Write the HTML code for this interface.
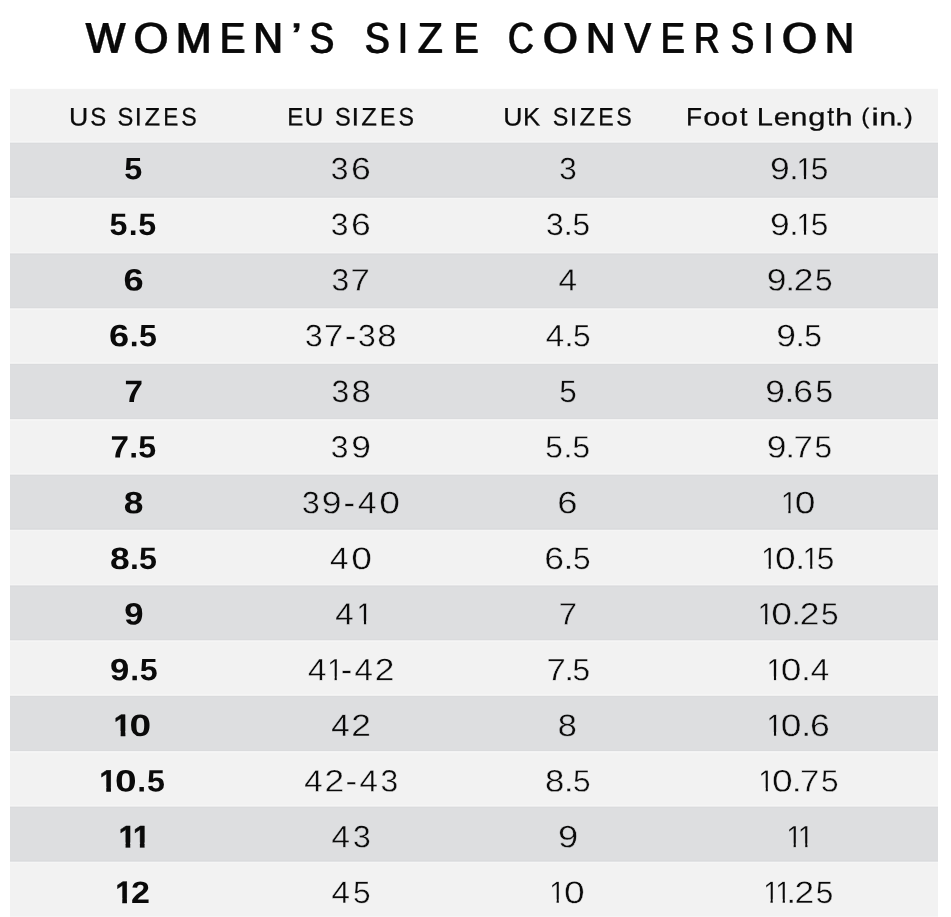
<!DOCTYPE html><html><head><meta charset="utf-8"><style>html,body{margin:0;padding:0;background:#fff;}svg{display:block;will-change:transform;}text{font-family:"Liberation Sans",sans-serif;white-space:pre;}</style></head><body><svg width="951" height="917" viewBox="0 0 951 917"><defs><clipPath id="c1r"><rect x="-20" y="-40" width="60" height="36.084"/><rect x="7.995" y="-4.416" width="2.340" height="8"/></clipPath><clipPath id="c1b"><rect x="-20" y="-40" width="60" height="35.236"/><rect x="6.985" y="-5.264" width="4.753" height="8"/></clipPath></defs><rect x="0" y="0" width="951" height="917" fill="#fff"/><rect x="10.00" y="88.80" width="928.00" height="53.80" fill="#f2f2f2"/><rect x="10.00" y="142.60" width="928.00" height="55.34" fill="#dddee0"/><rect x="10.00" y="197.93" width="928.00" height="55.34" fill="#f2f2f2"/><rect x="10.00" y="253.26" width="928.00" height="55.34" fill="#dddee0"/><rect x="10.00" y="308.59" width="928.00" height="55.34" fill="#f2f2f2"/><rect x="10.00" y="363.92" width="928.00" height="55.34" fill="#dddee0"/><rect x="10.00" y="419.25" width="928.00" height="55.34" fill="#f2f2f2"/><rect x="10.00" y="474.58" width="928.00" height="55.34" fill="#dddee0"/><rect x="10.00" y="529.91" width="928.00" height="55.34" fill="#f2f2f2"/><rect x="10.00" y="585.24" width="928.00" height="55.34" fill="#dddee0"/><rect x="10.00" y="640.57" width="928.00" height="55.34" fill="#f2f2f2"/><rect x="10.00" y="695.90" width="928.00" height="55.34" fill="#dddee0"/><rect x="10.00" y="751.23" width="928.00" height="55.34" fill="#f2f2f2"/><rect x="10.00" y="806.56" width="928.00" height="55.34" fill="#dddee0"/><rect x="10.00" y="861.89" width="928.00" height="57.11" fill="#f2f2f2"/><rect x="10.00" y="141" width="928.00" height="1" fill="#f5f5f5"/><rect x="10.00" y="143" width="928.00" height="1" fill="#dadbdd"/><rect x="10.00" y="196" width="928.00" height="1" fill="#dadbdd"/><rect x="10.00" y="198" width="928.00" height="1" fill="#f5f5f5"/><rect x="10.00" y="252" width="928.00" height="1" fill="#f5f5f5"/><rect x="10.00" y="254" width="928.00" height="1" fill="#dadbdd"/><rect x="10.00" y="307" width="928.00" height="1" fill="#dadbdd"/><rect x="10.00" y="309" width="928.00" height="1" fill="#f5f5f5"/><rect x="10.00" y="362" width="928.00" height="1" fill="#f5f5f5"/><rect x="10.00" y="364" width="928.00" height="1" fill="#dadbdd"/><rect x="10.00" y="418" width="928.00" height="1" fill="#dadbdd"/><rect x="10.00" y="420" width="928.00" height="1" fill="#f5f5f5"/><rect x="10.00" y="473" width="928.00" height="1" fill="#f5f5f5"/><rect x="10.00" y="475" width="928.00" height="1" fill="#dadbdd"/><rect x="10.00" y="528" width="928.00" height="1" fill="#dadbdd"/><rect x="10.00" y="530" width="928.00" height="1" fill="#f5f5f5"/><rect x="10.00" y="584" width="928.00" height="1" fill="#f5f5f5"/><rect x="10.00" y="586" width="928.00" height="1" fill="#dadbdd"/><rect x="10.00" y="639" width="928.00" height="1" fill="#dadbdd"/><rect x="10.00" y="641" width="928.00" height="1" fill="#f5f5f5"/><rect x="10.00" y="694" width="928.00" height="1" fill="#f5f5f5"/><rect x="10.00" y="696" width="928.00" height="1" fill="#dadbdd"/><rect x="10.00" y="750" width="928.00" height="1" fill="#dadbdd"/><rect x="10.00" y="752" width="928.00" height="1" fill="#f5f5f5"/><rect x="10.00" y="805" width="928.00" height="1" fill="#f5f5f5"/><rect x="10.00" y="807" width="928.00" height="1" fill="#dadbdd"/><rect x="10.00" y="860" width="928.00" height="1" fill="#dadbdd"/><rect x="10.00" y="862" width="928.00" height="1" fill="#f5f5f5"/><rect x="10.00" y="916" width="928.00" height="1" fill="#f5f5f5"/><g><text transform="matrix(0.9678 0.002 0 1.0000 85.27 52.75)" font-size="43.16" font-weight="normal" fill="#0a0a0a" style="text-shadow:1.30px 0 0 #0a0a0a" stroke="#0a0a0a" stroke-width="0.30" stroke-linejoin="miter">W</text><text transform="matrix(1.0385 0.002 0 1.0000 133.03 52.75)" font-size="43.16" font-weight="normal" fill="#0a0a0a" style="text-shadow:1.30px 0 0 #0a0a0a" stroke="#0a0a0a" stroke-width="0.30" stroke-linejoin="miter">O</text><text transform="matrix(0.9940 0.002 0 1.0000 175.23 52.75)" font-size="43.16" font-weight="normal" fill="#0a0a0a" style="text-shadow:1.30px 0 0 #0a0a0a" stroke="#0a0a0a" stroke-width="0.30" stroke-linejoin="miter">M</text><text transform="matrix(0.8805 0.002 0 1.0000 219.23 52.75)" font-size="43.16" font-weight="normal" fill="#0a0a0a" style="text-shadow:1.30px 0 0 #0a0a0a" stroke="#0a0a0a" stroke-width="0.30" stroke-linejoin="miter">E</text><text transform="matrix(0.9456 0.002 0 1.0000 252.70 52.75)" font-size="43.16" font-weight="normal" fill="#0a0a0a" style="text-shadow:1.30px 0 0 #0a0a0a" stroke="#0a0a0a" stroke-width="0.30" stroke-linejoin="miter">N</text><text transform="matrix(1.3810 0.002 0 1.0000 290.78 49.50)" font-size="37.63" font-weight="normal" fill="#0a0a0a" stroke="#0a0a0a" stroke-width="0.60" stroke-linejoin="miter">’</text><text transform="matrix(0.8491 0.002 0 1.0000 309.09 52.75)" font-size="43.16" font-weight="normal" fill="#0a0a0a" style="text-shadow:1.30px 0 0 #0a0a0a" stroke="#0a0a0a" stroke-width="0.30" stroke-linejoin="miter">S</text><text x="0" y="0" font-size="10"> </text><text transform="matrix(0.8612 0.002 0 1.0000 364.36 52.75)" font-size="43.16" font-weight="normal" fill="#0a0a0a" style="text-shadow:1.30px 0 0 #0a0a0a" stroke="#0a0a0a" stroke-width="0.30" stroke-linejoin="miter">S</text><text transform="matrix(0.8198 0.002 0 1.0000 397.38 52.75)" font-size="43.16" font-weight="normal" fill="#0a0a0a" style="text-shadow:1.30px 0 0 #0a0a0a" stroke="#0a0a0a" stroke-width="0.30" stroke-linejoin="miter">I</text><text transform="matrix(0.9388 0.002 0 1.0000 417.36 52.75)" font-size="43.16" font-weight="normal" fill="#0a0a0a" style="text-shadow:1.30px 0 0 #0a0a0a" stroke="#0a0a0a" stroke-width="0.30" stroke-linejoin="miter">Z</text><text transform="matrix(0.8592 0.002 0 1.0000 453.31 52.75)" font-size="43.16" font-weight="normal" fill="#0a0a0a" style="text-shadow:1.30px 0 0 #0a0a0a" stroke="#0a0a0a" stroke-width="0.30" stroke-linejoin="miter">E</text><text x="0" y="0" font-size="10"> </text><text transform="matrix(0.8268 0.002 0 1.0000 507.44 52.75)" font-size="43.16" font-weight="normal" fill="#0a0a0a" style="text-shadow:1.30px 0 0 #0a0a0a" stroke="#0a0a0a" stroke-width="0.30" stroke-linejoin="miter">C</text><text transform="matrix(1.0351 0.002 0 1.0000 542.33 52.75)" font-size="43.16" font-weight="normal" fill="#0a0a0a" style="text-shadow:1.30px 0 0 #0a0a0a" stroke="#0a0a0a" stroke-width="0.30" stroke-linejoin="miter">O</text><text transform="matrix(0.9373 0.002 0 1.0000 585.53 52.75)" font-size="43.16" font-weight="normal" fill="#0a0a0a" style="text-shadow:1.30px 0 0 #0a0a0a" stroke="#0a0a0a" stroke-width="0.30" stroke-linejoin="miter">N</text><text transform="matrix(0.9187 0.002 0 1.0000 623.88 52.75)" font-size="43.16" font-weight="normal" fill="#0a0a0a" style="text-shadow:1.30px 0 0 #0a0a0a" stroke="#0a0a0a" stroke-width="0.30" stroke-linejoin="miter">V</text><text transform="matrix(0.8378 0.002 0 1.0000 660.18 52.75)" font-size="43.16" font-weight="normal" fill="#0a0a0a" style="text-shadow:1.30px 0 0 #0a0a0a" stroke="#0a0a0a" stroke-width="0.30" stroke-linejoin="miter">E</text><text transform="matrix(0.8233 0.002 0 1.0000 693.43 52.75)" font-size="43.16" font-weight="normal" fill="#0a0a0a" style="text-shadow:1.30px 0 0 #0a0a0a" stroke="#0a0a0a" stroke-width="0.30" stroke-linejoin="miter">R</text><text transform="matrix(0.8129 0.002 0 1.0000 730.16 52.75)" font-size="43.16" font-weight="normal" fill="#0a0a0a" style="text-shadow:1.30px 0 0 #0a0a0a" stroke="#0a0a0a" stroke-width="0.30" stroke-linejoin="miter">S</text><text transform="matrix(0.7701 0.002 0 1.0000 763.28 52.75)" font-size="43.16" font-weight="normal" fill="#0a0a0a" style="text-shadow:1.30px 0 0 #0a0a0a" stroke="#0a0a0a" stroke-width="0.30" stroke-linejoin="miter">I</text><text transform="matrix(1.0453 0.002 0 1.0000 781.31 52.75)" font-size="43.16" font-weight="normal" fill="#0a0a0a" style="text-shadow:1.30px 0 0 #0a0a0a" stroke="#0a0a0a" stroke-width="0.30" stroke-linejoin="miter">O</text><text transform="matrix(0.9373 0.002 0 1.0000 824.33 52.75)" font-size="43.16" font-weight="normal" fill="#0a0a0a" style="text-shadow:1.30px 0 0 #0a0a0a" stroke="#0a0a0a" stroke-width="0.30" stroke-linejoin="miter">N</text></g><g><text transform="matrix(1.0531 0.002 0 1.0000 68.96 125.58)" font-size="25.35" font-weight="normal" fill="#0a0a0a" stroke="#0a0a0a" stroke-width="0.24" stroke-linejoin="miter">U</text><text transform="matrix(0.9428 0.002 0 1.0000 90.13 125.58)" font-size="25.35" font-weight="normal" fill="#0a0a0a" stroke="#0a0a0a" stroke-width="0.24" stroke-linejoin="miter">S</text><text x="0" y="0" font-size="10"> </text><text transform="matrix(0.9360 0.002 0 1.0000 117.44 125.58)" font-size="25.35" font-weight="normal" fill="#0a0a0a" stroke="#0a0a0a" stroke-width="0.24" stroke-linejoin="miter">S</text><text transform="matrix(0.9982 0.002 0 1.0000 134.78 125.58)" font-size="25.35" font-weight="normal" fill="#0a0a0a" stroke="#0a0a0a" stroke-width="0.24" stroke-linejoin="miter">I</text><text transform="matrix(1.0123 0.002 0 1.0000 144.41 125.58)" font-size="25.35" font-weight="normal" fill="#0a0a0a" stroke="#0a0a0a" stroke-width="0.24" stroke-linejoin="miter">Z</text><text transform="matrix(0.8923 0.002 0 1.0000 163.26 125.58)" font-size="25.35" font-weight="normal" fill="#0a0a0a" stroke="#0a0a0a" stroke-width="0.24" stroke-linejoin="miter">E</text><text transform="matrix(0.9154 0.002 0 1.0000 181.37 125.58)" font-size="25.35" font-weight="normal" fill="#0a0a0a" stroke="#0a0a0a" stroke-width="0.24" stroke-linejoin="miter">S</text></g><g><text transform="matrix(0.9505 0.002 0 1.0000 287.14 125.58)" font-size="25.35" font-weight="normal" fill="#0a0a0a" stroke="#0a0a0a" stroke-width="0.24" stroke-linejoin="miter">E</text><text transform="matrix(1.0322 0.002 0 1.0000 304.50 125.58)" font-size="25.35" font-weight="normal" fill="#0a0a0a" stroke="#0a0a0a" stroke-width="0.24" stroke-linejoin="miter">U</text><text x="0" y="0" font-size="10"> </text><text transform="matrix(0.9291 0.002 0 1.0000 334.95 125.58)" font-size="25.35" font-weight="normal" fill="#0a0a0a" stroke="#0a0a0a" stroke-width="0.24" stroke-linejoin="miter">S</text><text transform="matrix(1.0828 0.002 0 1.0000 351.49 125.58)" font-size="25.35" font-weight="normal" fill="#0a0a0a" stroke="#0a0a0a" stroke-width="0.24" stroke-linejoin="miter">I</text><text transform="matrix(1.0123 0.002 0 1.0000 361.31 125.58)" font-size="25.35" font-weight="normal" fill="#0a0a0a" stroke="#0a0a0a" stroke-width="0.24" stroke-linejoin="miter">Z</text><text transform="matrix(0.9141 0.002 0 1.0000 380.12 125.58)" font-size="25.35" font-weight="normal" fill="#0a0a0a" stroke="#0a0a0a" stroke-width="0.24" stroke-linejoin="miter">E</text><text transform="matrix(0.9154 0.002 0 1.0000 398.57 125.58)" font-size="25.35" font-weight="normal" fill="#0a0a0a" stroke="#0a0a0a" stroke-width="0.24" stroke-linejoin="miter">S</text></g><g><text transform="matrix(1.0531 0.002 0 1.0000 503.26 125.58)" font-size="25.35" font-weight="normal" fill="#0a0a0a" stroke="#0a0a0a" stroke-width="0.24" stroke-linejoin="miter">U</text><text transform="matrix(1.0217 0.002 0 1.0000 523.00 125.58)" font-size="25.35" font-weight="normal" fill="#0a0a0a" stroke="#0a0a0a" stroke-width="0.24" stroke-linejoin="miter">K</text><text x="0" y="0" font-size="10"> </text><text transform="matrix(0.9223 0.002 0 1.0000 552.66 125.58)" font-size="25.35" font-weight="normal" fill="#0a0a0a" stroke="#0a0a0a" stroke-width="0.24" stroke-linejoin="miter">S</text><text transform="matrix(1.0405 0.002 0 1.0000 569.69 125.58)" font-size="25.35" font-weight="normal" fill="#0a0a0a" stroke="#0a0a0a" stroke-width="0.24" stroke-linejoin="miter">I</text><text transform="matrix(1.0123 0.002 0 1.0000 579.41 125.58)" font-size="25.35" font-weight="normal" fill="#0a0a0a" stroke="#0a0a0a" stroke-width="0.24" stroke-linejoin="miter">Z</text><text transform="matrix(0.9141 0.002 0 1.0000 598.22 125.58)" font-size="25.35" font-weight="normal" fill="#0a0a0a" stroke="#0a0a0a" stroke-width="0.24" stroke-linejoin="miter">E</text><text transform="matrix(0.9154 0.002 0 1.0000 616.37 125.58)" font-size="25.35" font-weight="normal" fill="#0a0a0a" stroke="#0a0a0a" stroke-width="0.24" stroke-linejoin="miter">S</text></g><g><text transform="matrix(1.0379 0.002 0 1.0000 685.96 125.58)" font-size="25.35" font-weight="normal" fill="#0a0a0a" stroke="#0a0a0a" stroke-width="0.24" stroke-linejoin="miter">F</text><text transform="matrix(1.2164 0.002 0 1.0000 703.23 125.58)" font-size="25.35" font-weight="normal" fill="#0a0a0a" stroke="#0a0a0a" stroke-width="0.24" stroke-linejoin="miter">o</text><text transform="matrix(1.2080 0.002 0 1.0000 720.93 125.58)" font-size="25.35" font-weight="normal" fill="#0a0a0a" stroke="#0a0a0a" stroke-width="0.24" stroke-linejoin="miter">o</text><text transform="matrix(1.0452 0.002 0 1.0502 739.91 125.57)" font-size="25.70" font-weight="normal" fill="#0a0a0a" stroke="#0a0a0a" stroke-width="0.24" stroke-linejoin="miter">t</text><text x="0" y="0" font-size="10"> </text><text transform="matrix(1.1505 0.002 0 1.0000 756.63 125.58)" font-size="25.35" font-weight="normal" fill="#0a0a0a" stroke="#0a0a0a" stroke-width="0.24" stroke-linejoin="miter">L</text><text transform="matrix(1.1735 0.002 0 1.0000 773.76 125.58)" font-size="25.35" font-weight="normal" fill="#0a0a0a" stroke="#0a0a0a" stroke-width="0.24" stroke-linejoin="miter">e</text><text transform="matrix(1.2034 0.002 0 1.0000 790.49 125.58)" font-size="25.35" font-weight="normal" fill="#0a0a0a" stroke="#0a0a0a" stroke-width="0.24" stroke-linejoin="miter">n</text><text transform="matrix(1.2245 0.002 0 1.0000 808.22 125.58)" font-size="25.35" font-weight="normal" fill="#0a0a0a" stroke="#0a0a0a" stroke-width="0.24" stroke-linejoin="miter">g</text><text transform="matrix(0.9691 0.002 0 1.0502 827.14 125.57)" font-size="25.70" font-weight="normal" fill="#0a0a0a" stroke="#0a0a0a" stroke-width="0.24" stroke-linejoin="miter">t</text><text transform="matrix(1.2414 0.002 0 0.9376 835.01 125.58)" font-size="25.70" font-weight="normal" fill="#0a0a0a" stroke="#0a0a0a" stroke-width="0.24" stroke-linejoin="miter">h</text><text x="0" y="0" font-size="10"> </text><text transform="matrix(0.9480 0.002 0 0.8587 861.21 123.71)" font-size="25.70" font-weight="normal" fill="#0a0a0a" stroke="#0a0a0a" stroke-width="0.24" stroke-linejoin="miter">(</text><text transform="matrix(1.3547 0.002 0 0.9591 871.29 125.58)" font-size="25.70" font-weight="normal" fill="#0a0a0a" stroke="#0a0a0a" stroke-width="0.24" stroke-linejoin="miter">i</text><text transform="matrix(1.2034 0.002 0 1.0000 879.19 125.58)" font-size="25.35" font-weight="normal" fill="#0a0a0a" stroke="#0a0a0a" stroke-width="0.24" stroke-linejoin="miter">n</text><text transform="matrix(1.2677 0.002 0 1.0000 894.79 125.58)" font-size="25.35" font-weight="normal" fill="#0a0a0a" stroke="#0a0a0a" stroke-width="0.24" stroke-linejoin="miter">.</text><text transform="matrix(1.0067 0.002 0 0.8587 904.27 123.71)" font-size="25.70" font-weight="normal" fill="#0a0a0a" stroke="#0a0a0a" stroke-width="0.24" stroke-linejoin="miter">)</text></g><g><text transform="matrix(1.0438 0.002 0 1 124.20 179.30)" font-size="31.00" font-weight="bold" fill="#0a0a0a">5</text></g><g><text transform="matrix(1.0373 0.002 0 1 109.41 234.96)" font-size="31.00" font-weight="bold" fill="#0a0a0a">5</text><text transform="matrix(1.0287 0.002 0 1 128.70 234.96)" font-size="31.00" font-weight="bold" fill="#0a0a0a">.</text><text transform="matrix(1.0373 0.002 0 1 138.31 234.96)" font-size="31.00" font-weight="bold" fill="#0a0a0a">5</text></g><g><text transform="matrix(1.1678 0.002 0 1 123.47 290.62)" font-size="31.00" font-weight="bold" fill="#0a0a0a">6</text></g><g><text transform="matrix(1.1678 0.002 0 1 109.07 346.28)" font-size="31.00" font-weight="bold" fill="#0a0a0a">6</text><text transform="matrix(1.0287 0.002 0 1 129.77 346.28)" font-size="31.00" font-weight="bold" fill="#0a0a0a">.</text><text transform="matrix(1.0373 0.002 0 1 139.01 346.28)" font-size="31.00" font-weight="bold" fill="#0a0a0a">5</text></g><g><text transform="matrix(1.0724 0.002 0 1 124.57 401.94)" font-size="31.00" font-weight="bold" fill="#0a0a0a">7</text></g><g><text transform="matrix(1.0724 0.002 0 1 110.57 457.60)" font-size="31.00" font-weight="bold" fill="#0a0a0a">7</text><text transform="matrix(1.0287 0.002 0 1 129.26 457.60)" font-size="31.00" font-weight="bold" fill="#0a0a0a">.</text><text transform="matrix(1.0373 0.002 0 1 138.31 457.60)" font-size="31.00" font-weight="bold" fill="#0a0a0a">5</text></g><g><text transform="matrix(1.1435 0.002 0 1 123.67 513.26)" font-size="31.00" font-weight="bold" fill="#0a0a0a">8</text></g><g><text transform="matrix(1.1435 0.002 0 1 109.97 568.92)" font-size="31.00" font-weight="bold" fill="#0a0a0a">8</text><text transform="matrix(1.0287 0.002 0 1 130.10 568.92)" font-size="31.00" font-weight="bold" fill="#0a0a0a">.</text><text transform="matrix(1.0373 0.002 0 1 139.01 568.92)" font-size="31.00" font-weight="bold" fill="#0a0a0a">5</text></g><g><text transform="matrix(1.1188 0.002 0 1 124.30 624.58)" font-size="31.00" font-weight="bold" fill="#0a0a0a">9</text></g><g><text transform="matrix(1.1188 0.002 0 1 109.90 680.24)" font-size="31.00" font-weight="bold" fill="#0a0a0a">9</text><text transform="matrix(1.0287 0.002 0 1 130.15 680.24)" font-size="31.00" font-weight="bold" fill="#0a0a0a">.</text><text transform="matrix(1.0373 0.002 0 1 139.71 680.24)" font-size="31.00" font-weight="bold" fill="#0a0a0a">5</text></g><g><text transform="matrix(0.9819 0.002 0 1 113.82 735.90)" font-size="31.00" font-weight="bold" fill="#0a0a0a" stroke="#0a0a0a" stroke-width="0.50" clip-path="url(#c1b)">1</text><text transform="matrix(1.2548 0.002 0 1 129.46 735.90)" font-size="31.00" font-weight="bold" fill="#0a0a0a">0</text></g><g><text transform="matrix(0.9819 0.002 0 1 99.42 791.56)" font-size="31.00" font-weight="bold" fill="#0a0a0a" stroke="#0a0a0a" stroke-width="0.50" clip-path="url(#c1b)">1</text><text transform="matrix(1.2548 0.002 0 1 115.10 791.56)" font-size="31.00" font-weight="bold" fill="#0a0a0a">0</text><text transform="matrix(1.0287 0.002 0 1 137.36 791.56)" font-size="31.00" font-weight="bold" fill="#0a0a0a">.</text><text transform="matrix(1.0373 0.002 0 1 146.91 791.56)" font-size="31.00" font-weight="bold" fill="#0a0a0a">5</text></g><g><text transform="matrix(0.9819 0.002 0 1 118.72 847.22)" font-size="31.00" font-weight="bold" fill="#0a0a0a" stroke="#0a0a0a" stroke-width="0.50" clip-path="url(#c1b)">1</text><text transform="matrix(0.9819 0.002 0 1 133.02 847.22)" font-size="31.00" font-weight="bold" fill="#0a0a0a" stroke="#0a0a0a" stroke-width="0.50" clip-path="url(#c1b)">1</text></g><g><text transform="matrix(0.9819 0.002 0 1 115.42 902.88)" font-size="31.00" font-weight="bold" fill="#0a0a0a" stroke="#0a0a0a" stroke-width="0.50" clip-path="url(#c1b)">1</text><text transform="matrix(1.0988 0.002 0 1 131.02 902.88)" font-size="31.00" font-weight="bold" fill="#0a0a0a">2</text></g><g><text transform="matrix(1.0274 0.002 0 1 330.79 179.30)" font-size="31.00" font-weight="normal" fill="#0a0a0a" stroke="#dddee0" stroke-width="0.40">3</text><text transform="matrix(1.1465 0.002 0 1 351.00 179.30)" font-size="31.00" font-weight="normal" fill="#0a0a0a" stroke="#dddee0" stroke-width="0.40">6</text></g><g><text transform="matrix(1.0274 0.002 0 1 330.79 234.96)" font-size="31.00" font-weight="normal" fill="#0a0a0a" stroke="#f2f2f2" stroke-width="0.40">3</text><text transform="matrix(1.1465 0.002 0 1 351.00 234.96)" font-size="31.00" font-weight="normal" fill="#0a0a0a" stroke="#f2f2f2" stroke-width="0.40">6</text></g><g><text transform="matrix(1.0274 0.002 0 1 331.49 290.62)" font-size="31.00" font-weight="normal" fill="#0a0a0a" stroke="#dddee0" stroke-width="0.40">3</text><text transform="matrix(1.1212 0.002 0 1 350.42 290.62)" font-size="31.00" font-weight="normal" fill="#0a0a0a" stroke="#dddee0" stroke-width="0.40">7</text></g><g><text transform="matrix(1.0274 0.002 0 1 305.09 346.28)" font-size="31.00" font-weight="normal" fill="#0a0a0a" stroke="#f2f2f2" stroke-width="0.40">3</text><text transform="matrix(1.1212 0.002 0 1 324.12 346.28)" font-size="31.00" font-weight="normal" fill="#0a0a0a" stroke="#f2f2f2" stroke-width="0.40">7</text><text transform="matrix(1.1231 0.002 0 1 344.65 346.28)" font-size="31.00" font-weight="normal" fill="#0a0a0a" stroke="#f2f2f2" stroke-width="0.40">-</text><text transform="matrix(1.0274 0.002 0 1 357.99 346.28)" font-size="31.00" font-weight="normal" fill="#0a0a0a" stroke="#f2f2f2" stroke-width="0.40">3</text><text transform="matrix(1.1206 0.002 0 1 377.29 346.28)" font-size="31.00" font-weight="normal" fill="#0a0a0a" stroke="#f2f2f2" stroke-width="0.40">8</text></g><g><text transform="matrix(1.0274 0.002 0 1 331.49 401.94)" font-size="31.00" font-weight="normal" fill="#0a0a0a" stroke="#dddee0" stroke-width="0.40">3</text><text transform="matrix(1.1206 0.002 0 1 351.39 401.94)" font-size="31.00" font-weight="normal" fill="#0a0a0a" stroke="#dddee0" stroke-width="0.40">8</text></g><g><text transform="matrix(1.0274 0.002 0 1 330.79 457.60)" font-size="31.00" font-weight="normal" fill="#0a0a0a" stroke="#f2f2f2" stroke-width="0.40">3</text><text transform="matrix(1.1453 0.002 0 1 351.14 457.60)" font-size="31.00" font-weight="normal" fill="#0a0a0a" stroke="#f2f2f2" stroke-width="0.40">9</text></g><g><text transform="matrix(1.0274 0.002 0 1 301.99 513.26)" font-size="31.00" font-weight="normal" fill="#0a0a0a" stroke="#dddee0" stroke-width="0.40">3</text><text transform="matrix(1.1453 0.002 0 1 321.84 513.26)" font-size="31.00" font-weight="normal" fill="#0a0a0a" stroke="#dddee0" stroke-width="0.40">9</text><text transform="matrix(1.1231 0.002 0 1 343.55 513.26)" font-size="31.00" font-weight="normal" fill="#0a0a0a" stroke="#dddee0" stroke-width="0.40">-</text><text transform="matrix(1.0691 0.002 0 1 358.04 513.26)" font-size="31.00" font-weight="normal" fill="#0a0a0a" stroke="#dddee0" stroke-width="0.40">4</text><text transform="matrix(1.2012 0.002 0 1 379.25 513.26)" font-size="31.00" font-weight="normal" fill="#0a0a0a" stroke="#dddee0" stroke-width="0.40">0</text></g><g><text transform="matrix(1.0691 0.002 0 1 330.04 568.92)" font-size="31.00" font-weight="normal" fill="#0a0a0a" stroke="#f2f2f2" stroke-width="0.40">4</text><text transform="matrix(1.2012 0.002 0 1 351.15 568.92)" font-size="31.00" font-weight="normal" fill="#0a0a0a" stroke="#f2f2f2" stroke-width="0.40">0</text></g><g><text transform="matrix(1.0691 0.002 0 1 335.34 624.58)" font-size="31.00" font-weight="normal" fill="#0a0a0a" stroke="#dddee0" stroke-width="0.40">4</text><text transform="matrix(0.9268 0.002 0 1 356.54 624.58)" font-size="31.00" font-weight="normal" fill="#0a0a0a" stroke="#dddee0" stroke-width="0.40" clip-path="url(#c1r)">1</text></g><g><text transform="matrix(1.0691 0.002 0 1 307.94 680.24)" font-size="31.00" font-weight="normal" fill="#0a0a0a" stroke="#f2f2f2" stroke-width="0.40">4</text><text transform="matrix(0.9268 0.002 0 1 327.21 680.24)" font-size="31.00" font-weight="normal" fill="#0a0a0a" stroke="#f2f2f2" stroke-width="0.40" clip-path="url(#c1r)">1</text><text transform="matrix(1.1231 0.002 0 1 340.70 680.24)" font-size="31.00" font-weight="normal" fill="#0a0a0a" stroke="#f2f2f2" stroke-width="0.40">-</text><text transform="matrix(1.0691 0.002 0 1 354.56 680.24)" font-size="31.00" font-weight="normal" fill="#0a0a0a" stroke="#f2f2f2" stroke-width="0.40">4</text><text transform="matrix(1.1400 0.002 0 1 374.82 680.24)" font-size="31.00" font-weight="normal" fill="#0a0a0a" stroke="#f2f2f2" stroke-width="0.40">2</text></g><g><text transform="matrix(1.0691 0.002 0 1 331.24 735.90)" font-size="31.00" font-weight="normal" fill="#0a0a0a" stroke="#dddee0" stroke-width="0.40">4</text><text transform="matrix(1.1400 0.002 0 1 351.32 735.90)" font-size="31.00" font-weight="normal" fill="#0a0a0a" stroke="#dddee0" stroke-width="0.40">2</text></g><g><text transform="matrix(1.0691 0.002 0 1 304.14 791.56)" font-size="31.00" font-weight="normal" fill="#0a0a0a" stroke="#f2f2f2" stroke-width="0.40">4</text><text transform="matrix(1.1400 0.002 0 1 324.52 791.56)" font-size="31.00" font-weight="normal" fill="#0a0a0a" stroke="#f2f2f2" stroke-width="0.40">2</text><text transform="matrix(1.1231 0.002 0 1 345.55 791.56)" font-size="31.00" font-weight="normal" fill="#0a0a0a" stroke="#f2f2f2" stroke-width="0.40">-</text><text transform="matrix(1.0691 0.002 0 1 359.54 791.56)" font-size="31.00" font-weight="normal" fill="#0a0a0a" stroke="#f2f2f2" stroke-width="0.40">4</text><text transform="matrix(1.0274 0.002 0 1 380.49 791.56)" font-size="31.00" font-weight="normal" fill="#0a0a0a" stroke="#f2f2f2" stroke-width="0.40">3</text></g><g><text transform="matrix(1.0691 0.002 0 1 331.54 847.22)" font-size="31.00" font-weight="normal" fill="#0a0a0a" stroke="#dddee0" stroke-width="0.40">4</text><text transform="matrix(1.0274 0.002 0 1 352.89 847.22)" font-size="31.00" font-weight="normal" fill="#0a0a0a" stroke="#dddee0" stroke-width="0.40">3</text></g><g><text transform="matrix(1.0691 0.002 0 1 331.54 902.88)" font-size="31.00" font-weight="normal" fill="#0a0a0a" stroke="#f2f2f2" stroke-width="0.40">4</text><text transform="matrix(1.0206 0.002 0 1 352.93 902.88)" font-size="31.00" font-weight="normal" fill="#0a0a0a" stroke="#f2f2f2" stroke-width="0.40">5</text></g><g><text transform="matrix(1.0138 0.002 0 1 559.20 179.30)" font-size="31.00" font-weight="normal" fill="#0a0a0a" stroke="#dddee0" stroke-width="0.40">3</text></g><g><text transform="matrix(1.0274 0.002 0 1 545.99 234.96)" font-size="31.00" font-weight="normal" fill="#0a0a0a" stroke="#f2f2f2" stroke-width="0.40">3</text><text transform="matrix(1.1519 0.002 0 1 563.29 234.96)" font-size="31.00" font-weight="normal" fill="#0a0a0a" stroke="#f2f2f2" stroke-width="0.40">.</text><text transform="matrix(1.0206 0.002 0 1 572.43 234.96)" font-size="31.00" font-weight="normal" fill="#0a0a0a" stroke="#f2f2f2" stroke-width="0.40">5</text></g><g><text transform="matrix(1.0755 0.002 0 1 558.43 290.62)" font-size="31.00" font-weight="normal" fill="#0a0a0a" stroke="#dddee0" stroke-width="0.40">4</text></g><g><text transform="matrix(1.0691 0.002 0 1 545.74 346.28)" font-size="31.00" font-weight="normal" fill="#0a0a0a" stroke="#f2f2f2" stroke-width="0.40">4</text><text transform="matrix(1.1519 0.002 0 1 563.98 346.28)" font-size="31.00" font-weight="normal" fill="#0a0a0a" stroke="#f2f2f2" stroke-width="0.40">.</text><text transform="matrix(1.0206 0.002 0 1 572.93 346.28)" font-size="31.00" font-weight="normal" fill="#0a0a0a" stroke="#f2f2f2" stroke-width="0.40">5</text></g><g><text transform="matrix(1.0138 0.002 0 1 559.14 401.94)" font-size="31.00" font-weight="normal" fill="#0a0a0a" stroke="#dddee0" stroke-width="0.40">5</text></g><g><text transform="matrix(1.0206 0.002 0 1 545.23 457.60)" font-size="31.00" font-weight="normal" fill="#0a0a0a" stroke="#f2f2f2" stroke-width="0.40">5</text><text transform="matrix(1.1519 0.002 0 1 562.91 457.60)" font-size="31.00" font-weight="normal" fill="#0a0a0a" stroke="#f2f2f2" stroke-width="0.40">.</text><text transform="matrix(1.0206 0.002 0 1 572.43 457.60)" font-size="31.00" font-weight="normal" fill="#0a0a0a" stroke="#f2f2f2" stroke-width="0.40">5</text></g><g><text transform="matrix(1.1745 0.002 0 1 557.35 513.26)" font-size="31.00" font-weight="normal" fill="#0a0a0a" stroke="#dddee0" stroke-width="0.40">6</text></g><g><text transform="matrix(1.1465 0.002 0 1 544.20 568.92)" font-size="31.00" font-weight="normal" fill="#0a0a0a" stroke="#f2f2f2" stroke-width="0.40">6</text><text transform="matrix(1.1519 0.002 0 1 563.60 568.92)" font-size="31.00" font-weight="normal" fill="#0a0a0a" stroke="#f2f2f2" stroke-width="0.40">.</text><text transform="matrix(1.0206 0.002 0 1 572.93 568.92)" font-size="31.00" font-weight="normal" fill="#0a0a0a" stroke="#f2f2f2" stroke-width="0.40">5</text></g><g><text transform="matrix(1.0573 0.002 0 1 558.72 624.58)" font-size="31.00" font-weight="normal" fill="#0a0a0a" stroke="#dddee0" stroke-width="0.40">7</text></g><g><text transform="matrix(1.1212 0.002 0 1 546.62 680.24)" font-size="31.00" font-weight="normal" fill="#0a0a0a" stroke="#f2f2f2" stroke-width="0.40">7</text><text transform="matrix(1.1519 0.002 0 1 564.18 680.24)" font-size="31.00" font-weight="normal" fill="#0a0a0a" stroke="#f2f2f2" stroke-width="0.40">.</text><text transform="matrix(1.0206 0.002 0 1 572.43 680.24)" font-size="31.00" font-weight="normal" fill="#0a0a0a" stroke="#f2f2f2" stroke-width="0.40">5</text></g><g><text transform="matrix(1.1068 0.002 0 1 557.71 735.90)" font-size="31.00" font-weight="normal" fill="#0a0a0a" stroke="#dddee0" stroke-width="0.40">8</text></g><g><text transform="matrix(1.1206 0.002 0 1 544.99 791.56)" font-size="31.00" font-weight="normal" fill="#0a0a0a" stroke="#f2f2f2" stroke-width="0.40">8</text><text transform="matrix(1.1519 0.002 0 1 563.79 791.56)" font-size="31.00" font-weight="normal" fill="#0a0a0a" stroke="#f2f2f2" stroke-width="0.40">.</text><text transform="matrix(1.0206 0.002 0 1 572.93 791.56)" font-size="31.00" font-weight="normal" fill="#0a0a0a" stroke="#f2f2f2" stroke-width="0.40">5</text></g><g><text transform="matrix(1.1732 0.002 0 1 558.10 847.22)" font-size="31.00" font-weight="normal" fill="#0a0a0a" stroke="#dddee0" stroke-width="0.40">9</text></g><g><text transform="matrix(0.9268 0.002 0 1 549.24 902.88)" font-size="31.00" font-weight="normal" fill="#0a0a0a" stroke="#f2f2f2" stroke-width="0.40" clip-path="url(#c1r)">1</text><text transform="matrix(1.2012 0.002 0 1 563.95 902.88)" font-size="31.00" font-weight="normal" fill="#0a0a0a" stroke="#f2f2f2" stroke-width="0.40">0</text></g><g><text transform="matrix(1.1453 0.002 0 1 770.04 179.30)" font-size="31.00" font-weight="normal" fill="#0a0a0a" stroke="#dddee0" stroke-width="0.40">9</text><text transform="matrix(1.1519 0.002 0 1 788.98 179.30)" font-size="31.00" font-weight="normal" fill="#0a0a0a" stroke="#dddee0" stroke-width="0.40">.</text><text transform="matrix(0.9268 0.002 0 1 796.53 179.30)" font-size="31.00" font-weight="normal" fill="#0a0a0a" stroke="#dddee0" stroke-width="0.40" clip-path="url(#c1r)">1</text><text transform="matrix(1.0206 0.002 0 1 810.63 179.30)" font-size="31.00" font-weight="normal" fill="#0a0a0a" stroke="#dddee0" stroke-width="0.40">5</text></g><g><text transform="matrix(1.1453 0.002 0 1 770.04 234.96)" font-size="31.00" font-weight="normal" fill="#0a0a0a" stroke="#f2f2f2" stroke-width="0.40">9</text><text transform="matrix(1.1519 0.002 0 1 788.98 234.96)" font-size="31.00" font-weight="normal" fill="#0a0a0a" stroke="#f2f2f2" stroke-width="0.40">.</text><text transform="matrix(0.9268 0.002 0 1 796.53 234.96)" font-size="31.00" font-weight="normal" fill="#0a0a0a" stroke="#f2f2f2" stroke-width="0.40" clip-path="url(#c1r)">1</text><text transform="matrix(1.0206 0.002 0 1 810.63 234.96)" font-size="31.00" font-weight="normal" fill="#0a0a0a" stroke="#f2f2f2" stroke-width="0.40">5</text></g><g><text transform="matrix(1.1453 0.002 0 1 766.64 290.62)" font-size="31.00" font-weight="normal" fill="#0a0a0a" stroke="#dddee0" stroke-width="0.40">9</text><text transform="matrix(1.1519 0.002 0 1 785.36 290.62)" font-size="31.00" font-weight="normal" fill="#0a0a0a" stroke="#dddee0" stroke-width="0.40">.</text><text transform="matrix(1.1400 0.002 0 1 793.71 290.62)" font-size="31.00" font-weight="normal" fill="#0a0a0a" stroke="#dddee0" stroke-width="0.40">2</text><text transform="matrix(1.0206 0.002 0 1 814.93 290.62)" font-size="31.00" font-weight="normal" fill="#0a0a0a" stroke="#dddee0" stroke-width="0.40">5</text></g><g><text transform="matrix(1.1453 0.002 0 1 776.24 346.28)" font-size="31.00" font-weight="normal" fill="#0a0a0a" stroke="#f2f2f2" stroke-width="0.40">9</text><text transform="matrix(1.1519 0.002 0 1 795.13 346.28)" font-size="31.00" font-weight="normal" fill="#0a0a0a" stroke="#f2f2f2" stroke-width="0.40">.</text><text transform="matrix(1.0206 0.002 0 1 804.13 346.28)" font-size="31.00" font-weight="normal" fill="#0a0a0a" stroke="#f2f2f2" stroke-width="0.40">5</text></g><g><text transform="matrix(1.1453 0.002 0 1 765.24 401.94)" font-size="31.00" font-weight="normal" fill="#0a0a0a" stroke="#dddee0" stroke-width="0.40">9</text><text transform="matrix(1.1519 0.002 0 1 784.49 401.94)" font-size="31.00" font-weight="normal" fill="#0a0a0a" stroke="#dddee0" stroke-width="0.40">.</text><text transform="matrix(1.1465 0.002 0 1 793.26 401.94)" font-size="31.00" font-weight="normal" fill="#0a0a0a" stroke="#dddee0" stroke-width="0.40">6</text><text transform="matrix(1.0206 0.002 0 1 815.43 401.94)" font-size="31.00" font-weight="normal" fill="#0a0a0a" stroke="#dddee0" stroke-width="0.40">5</text></g><g><text transform="matrix(1.1453 0.002 0 1 766.64 457.60)" font-size="31.00" font-weight="normal" fill="#0a0a0a" stroke="#f2f2f2" stroke-width="0.40">9</text><text transform="matrix(1.1519 0.002 0 1 785.30 457.60)" font-size="31.00" font-weight="normal" fill="#0a0a0a" stroke="#f2f2f2" stroke-width="0.40">.</text><text transform="matrix(1.1212 0.002 0 1 793.58 457.60)" font-size="31.00" font-weight="normal" fill="#0a0a0a" stroke="#f2f2f2" stroke-width="0.40">7</text><text transform="matrix(1.0206 0.002 0 1 814.43 457.60)" font-size="31.00" font-weight="normal" fill="#0a0a0a" stroke="#f2f2f2" stroke-width="0.40">5</text></g><g><text transform="matrix(0.9268 0.002 0 1 780.94 513.26)" font-size="31.00" font-weight="normal" fill="#0a0a0a" stroke="#dddee0" stroke-width="0.40" clip-path="url(#c1r)">1</text><text transform="matrix(1.2012 0.002 0 1 794.65 513.26)" font-size="31.00" font-weight="normal" fill="#0a0a0a" stroke="#dddee0" stroke-width="0.40">0</text></g><g><text transform="matrix(0.9268 0.002 0 1 761.24 568.92)" font-size="31.00" font-weight="normal" fill="#0a0a0a" stroke="#f2f2f2" stroke-width="0.40" clip-path="url(#c1r)">1</text><text transform="matrix(1.2012 0.002 0 1 775.12 568.92)" font-size="31.00" font-weight="normal" fill="#0a0a0a" stroke="#f2f2f2" stroke-width="0.40">0</text><text transform="matrix(1.1519 0.002 0 1 795.23 568.92)" font-size="31.00" font-weight="normal" fill="#0a0a0a" stroke="#f2f2f2" stroke-width="0.40">.</text><text transform="matrix(0.9268 0.002 0 1 802.76 568.92)" font-size="31.00" font-weight="normal" fill="#0a0a0a" stroke="#f2f2f2" stroke-width="0.40" clip-path="url(#c1r)">1</text><text transform="matrix(1.0206 0.002 0 1 816.83 568.92)" font-size="31.00" font-weight="normal" fill="#0a0a0a" stroke="#f2f2f2" stroke-width="0.40">5</text></g><g><text transform="matrix(0.9268 0.002 0 1 757.64 624.58)" font-size="31.00" font-weight="normal" fill="#0a0a0a" stroke="#dddee0" stroke-width="0.40" clip-path="url(#c1r)">1</text><text transform="matrix(1.2012 0.002 0 1 771.31 624.58)" font-size="31.00" font-weight="normal" fill="#0a0a0a" stroke="#dddee0" stroke-width="0.40">0</text><text transform="matrix(1.1519 0.002 0 1 791.27 624.58)" font-size="31.00" font-weight="normal" fill="#0a0a0a" stroke="#dddee0" stroke-width="0.40">.</text><text transform="matrix(1.1400 0.002 0 1 799.66 624.58)" font-size="31.00" font-weight="normal" fill="#0a0a0a" stroke="#dddee0" stroke-width="0.40">2</text><text transform="matrix(1.0206 0.002 0 1 820.93 624.58)" font-size="31.00" font-weight="normal" fill="#0a0a0a" stroke="#dddee0" stroke-width="0.40">5</text></g><g><text transform="matrix(0.9268 0.002 0 1 766.54 680.24)" font-size="31.00" font-weight="normal" fill="#0a0a0a" stroke="#f2f2f2" stroke-width="0.40" clip-path="url(#c1r)">1</text><text transform="matrix(1.2012 0.002 0 1 780.74 680.24)" font-size="31.00" font-weight="normal" fill="#0a0a0a" stroke="#f2f2f2" stroke-width="0.40">0</text><text transform="matrix(1.1519 0.002 0 1 801.09 680.24)" font-size="31.00" font-weight="normal" fill="#0a0a0a" stroke="#f2f2f2" stroke-width="0.40">.</text><text transform="matrix(1.0691 0.002 0 1 810.84 680.24)" font-size="31.00" font-weight="normal" fill="#0a0a0a" stroke="#f2f2f2" stroke-width="0.40">4</text></g><g><text transform="matrix(0.9268 0.002 0 1 766.54 735.90)" font-size="31.00" font-weight="normal" fill="#0a0a0a" stroke="#dddee0" stroke-width="0.40" clip-path="url(#c1r)">1</text><text transform="matrix(1.2012 0.002 0 1 780.87 735.90)" font-size="31.00" font-weight="normal" fill="#0a0a0a" stroke="#dddee0" stroke-width="0.40">0</text><text transform="matrix(1.1519 0.002 0 1 801.31 735.90)" font-size="31.00" font-weight="normal" fill="#0a0a0a" stroke="#dddee0" stroke-width="0.40">.</text><text transform="matrix(1.1465 0.002 0 1 810.10 735.90)" font-size="31.00" font-weight="normal" fill="#0a0a0a" stroke="#dddee0" stroke-width="0.40">6</text></g><g><text transform="matrix(0.9268 0.002 0 1 758.34 791.56)" font-size="31.00" font-weight="normal" fill="#0a0a0a" stroke="#f2f2f2" stroke-width="0.40" clip-path="url(#c1r)">1</text><text transform="matrix(1.2012 0.002 0 1 771.89 791.56)" font-size="31.00" font-weight="normal" fill="#0a0a0a" stroke="#f2f2f2" stroke-width="0.40">0</text><text transform="matrix(1.1519 0.002 0 1 791.76 791.56)" font-size="31.00" font-weight="normal" fill="#0a0a0a" stroke="#f2f2f2" stroke-width="0.40">.</text><text transform="matrix(1.1212 0.002 0 1 800.06 791.56)" font-size="31.00" font-weight="normal" fill="#0a0a0a" stroke="#f2f2f2" stroke-width="0.40">7</text><text transform="matrix(1.0206 0.002 0 1 820.93 791.56)" font-size="31.00" font-weight="normal" fill="#0a0a0a" stroke="#f2f2f2" stroke-width="0.40">5</text></g><g><text transform="matrix(0.9268 0.002 0 1 786.24 847.22)" font-size="31.00" font-weight="normal" fill="#0a0a0a" stroke="#dddee0" stroke-width="0.40" clip-path="url(#c1r)">1</text><text transform="matrix(0.9268 0.002 0 1 797.84 847.22)" font-size="31.00" font-weight="normal" fill="#0a0a0a" stroke="#dddee0" stroke-width="0.40" clip-path="url(#c1r)">1</text></g><g><text transform="matrix(0.9268 0.002 0 1 763.14 902.88)" font-size="31.00" font-weight="normal" fill="#0a0a0a" stroke="#f2f2f2" stroke-width="0.40" clip-path="url(#c1r)">1</text><text transform="matrix(0.9268 0.002 0 1 775.33 902.88)" font-size="31.00" font-weight="normal" fill="#0a0a0a" stroke="#f2f2f2" stroke-width="0.40" clip-path="url(#c1r)">1</text><text transform="matrix(1.1519 0.002 0 1 786.24 902.88)" font-size="31.00" font-weight="normal" fill="#0a0a0a" stroke="#f2f2f2" stroke-width="0.40">.</text><text transform="matrix(1.1400 0.002 0 1 794.51 902.88)" font-size="31.00" font-weight="normal" fill="#0a0a0a" stroke="#f2f2f2" stroke-width="0.40">2</text><text transform="matrix(1.0206 0.002 0 1 815.63 902.88)" font-size="31.00" font-weight="normal" fill="#0a0a0a" stroke="#f2f2f2" stroke-width="0.40">5</text></g></svg></body></html>
